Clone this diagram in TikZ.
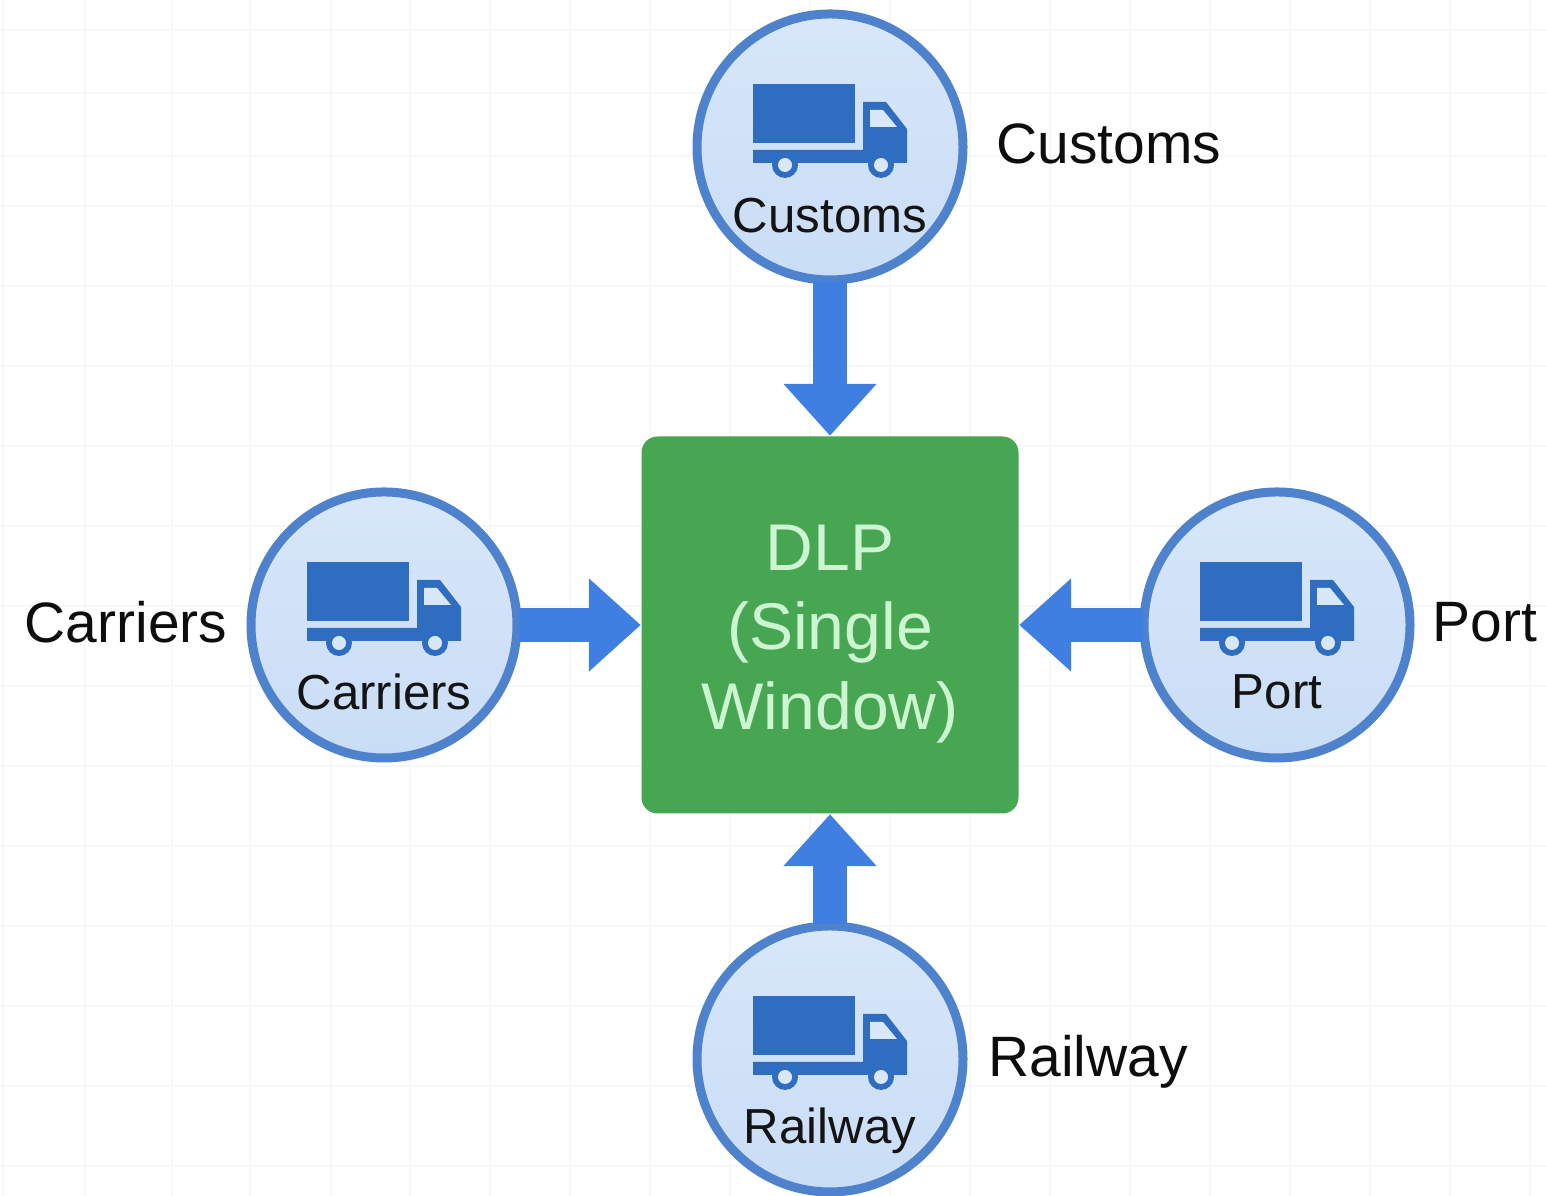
\documentclass[tikz,border=0pt]{standalone}
\usepackage{fontspec}
\setmainfont{Liberation Sans}
\usepackage{xcolor}
\usetikzlibrary{arrows.meta}
\definecolor{ringblue}{HTML}{4F82CC}
\definecolor{discblue}{HTML}{C9DDF6}
\definecolor{disclight}{HTML}{D8E7F9}
\definecolor{truckblue}{HTML}{2F6DC0}
\definecolor{arrowblue}{HTML}{3F7FE2}
\definecolor{dlpgreen}{HTML}{46A652}
\definecolor{dlptext}{HTML}{CDF5D2}
\definecolor{gridgray}{HTML}{F7F7F7}
\tikzset{
    hub/.style={circle, draw=ringblue, line width=0.09cm, top color=disclight, bottom color=discblue, inner sep=0pt, minimum size=2.66cm},
    dlpbox/.style={rectangle, rounded corners=0.16cm, fill=dlpgreen, minimum size=3.77cm},
    dlplabel/.style={text=dlptext, align=center, font=\fontsize{18.8}{22.7}\selectfont},
    outerlabel/.style={font=\fontsize{16.2}{19}\selectfont, text=black!95},
    innerlabel/.style={font=\fontsize{14}{17}\selectfont, text=black!92},
    feed/.style={draw=arrowblue, line width=0.34cm, -{Triangle[width=0.90cm,length=0.52cm,fill=arrowblue]}, shorten <=-0.03cm},
    truck/.pic={
        \fill[truckblue] (-0.77,0.63) rectangle (0.25,0.04);
        \fill[truckblue] (-0.77,-0.03) -- (0.33,-0.03) -- (0.33,0.45) -- (0.56,0.45) -- (0.77,0.18) -- (0.77,-0.16) -- (-0.77,-0.16) -- cycle;
        \fill[disclight] (0.40,0.37) -- (0.53,0.37) -- (0.67,0.20) -- (0.40,0.20) -- cycle;
        \foreach \wheelx in {-0.45,0.51} {
            \fill[truckblue] (\wheelx,-0.18) circle (0.13);
            \fill[disclight] (\wheelx,-0.18) circle (0.07);
        }
    }
}
\begin{document}
\begin{tikzpicture}
    \useasboundingbox (0,0) rectangle (15.47,11.96);
    \fill[white] (0,0) rectangle (15.47,11.96);
    \foreach \gridx in {0.03,0.85,1.72,2.50,3.31,4.10,4.90,5.70,6.50,7.30,8.10,8.90,9.70,10.50,11.30,12.10,12.90,13.70,14.50,15.30}
        \draw[gridgray, line width=0.02cm] (\gridx,0) -- (\gridx,11.96);
    \foreach \gridy in {0.3,1.1,1.9,2.7,3.5,4.3,5.1,5.9,6.7,7.5,8.3,9.1,9.9,10.4,11.03,11.66}
        \draw[gridgray, line width=0.02cm] (0,\gridy) -- (15.47,\gridy);

    \node[dlpbox] (dlp) at (8.30,5.71) {};
    \node[dlplabel] (dlptitle) at (8.30,5.62) {DLP\\(Single\\Window)};
    \node[hub] (customs) at (8.30,10.49) {};
    \node[hub] (carriers) at (3.84,5.71) {};
    \node[hub] (port) at (12.77,5.71) {};
    \node[hub] (railway) at (8.30,1.37) {};

    \draw[feed] (customs) -- (dlp);
    \draw[feed] (carriers) -- (dlp);
    \draw[feed] (port) -- (dlp);
    \draw[feed] (railway) -- (dlp);

    \foreach \hubname in {customs,carriers,port,railway}
        \pic at (\hubname) {truck};

    \node[innerlabel] (customsin) at (8.30,9.80) {Customs};
    \node[innerlabel] (carriersin) at (3.84,5.04) {Carriers};
    \node[innerlabel] (portin) at (12.77,5.04) {Port};
    \node[innerlabel] (railwayin) at (8.30,0.65) {Railway};

    \node[outerlabel] (customsout) at (11.09,10.52) {Customs};
    \node[outerlabel] (carriersout) at (1.26,5.74) {Carriers};
    \node[outerlabel] (portout) at (14.85,5.74) {Port};
    \node[outerlabel] (railwayout) at (10.88,1.34) {Railway};
\end{tikzpicture}
\end{document}
